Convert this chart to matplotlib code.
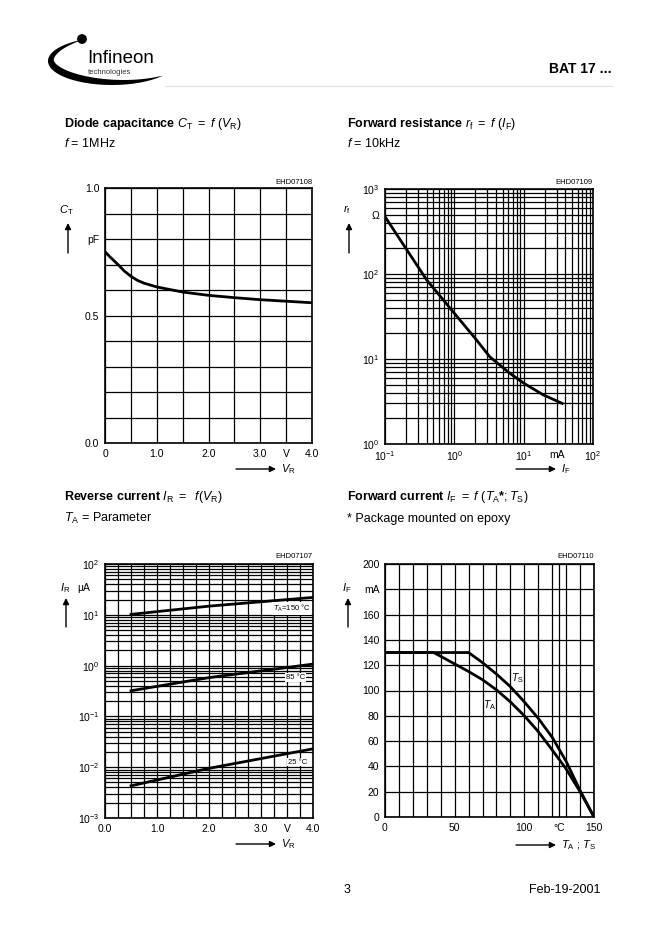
import numpy as np
import matplotlib
matplotlib.use('Agg')
import matplotlib.pyplot as plt
from matplotlib.patches import Polygon, Circle
from matplotlib.ticker import NullFormatter

plt.rcParams['font.family'] = ['Liberation Sans', 'DejaVu Sans']
plt.rcParams['mathtext.fontset'] = 'custom'
plt.rcParams['mathtext.rm'] = 'Liberation Sans'
plt.rcParams['mathtext.it'] = 'Liberation Sans:italic'
plt.rcParams['mathtext.bf'] = 'Liberation Sans:bold'

# ---------------- data ----------------
# Diode capacitance vs reverse voltage
ct_vr = [0, 0.1, 0.25, 0.375, 0.5, 0.625, 0.75, 1.0, 1.5, 2.0, 2.5, 3.0, 3.5, 4.0]
ct_pf = [0.75, 0.729, 0.70, 0.674, 0.654, 0.638, 0.627, 0.612, 0.592, 0.579, 0.570, 0.562, 0.556, 0.550]

# Forward resistance vs forward current
rf_if_ma = [0.1, 0.2, 0.4, 1.0, 2.0, 3.25, 6.3, 10, 19, 36]
rf_ohm = [473, 200, 85, 34.5, 17.5, 10.6, 6.8, 5.2, 3.8, 3.0]

# Reverse current vs reverse voltage
ir_vr = [0.5, 2.0, 4.0]
ir_150 = [10.2, 14.8, 22.0]
ir_85 = [0.32, 0.58, 1.07]
ir_25 = [0.0043, 0.0095, 0.023]
ir_labels = ['$T_\\mathrm{A}$=150 °C', '85 °C', '25 °C']

# Forward current vs temperature
ta_temp = [0, 35, 50, 60, 70, 80, 90, 100, 110, 120, 130, 140, 150]
ta_if = [130, 130, 121, 115, 108.5, 100.5, 91, 80, 67.5, 53, 38, 20, 0]
ts_temp = [0, 60, 70, 80, 90, 100, 110, 120, 130, 140, 150]
ts_if = [130, 130, 122, 113, 103, 91, 78, 63, 44, 21, 0]

# tick labels
ct_xlabels = ['0', '1.0', '2.0', '3.0', 'V', '4.0']
ct_ylabels = ['0.0', '0.5', 'pF', '1.0']
rf_xlabels = ['$10^{-1}$', '$10^{0}$', '$10^{1}$', 'mA', '$10^{2}$']
rf_ylabels = ['$10^{0}$', '$10^{1}$', '$10^{2}$', 'Ω', '$10^{3}$']
ir_xlabels = ['0.0', '1.0', '2.0', '3.0', 'V', '4.0']
ir_ylabels = ['$10^{-3}$', '$10^{-2}$', '$10^{-1}$', '$10^{0}$', '$10^{1}$', '$10^{2}$']
if_xlabels = ['0', '50', '100', '°C', '150']
if_ylabels = ['0', '20', '40', '60', '80', '100', '120', '140', '160', 'mA', '200']

# ---------------- figure ----------------
W, H = 662, 936
fig = plt.figure(figsize=(W / 100, H / 100), dpi=100)
fig.patch.set_facecolor('white')


def add_ax(l, t, r, b):
    return fig.add_axes([l / W, 1 - b / H, (r - l) / W, (b - t) / H])


def style(ax):
    ax.grid(True, which='both', color='black', lw=0.9)
    ax.set_axisbelow(True)
    ax.tick_params(which='both', length=0, labelsize=7.5, pad=4)
    for s in ax.spines.values():
        s.set_linewidth(1.2)


LW = 2.0

# Plot 1: C_T
ax1 = add_ax(105, 188, 312, 443)
style(ax1)
ax1.plot(ct_vr, ct_pf, color='black', lw=LW)
ax1.set_xlim(0, 4)
ax1.set_ylim(0, 1)
ax1.set_xticks(np.arange(0, 4.01, 0.5), minor=True)
ax1.set_yticks(np.arange(0, 1.01, 0.1), minor=True)
ax1.set_xticks([0, 1, 2, 3, 3.5, 4], ct_xlabels)
ax1.set_yticks([0, 0.5, 0.8, 1.0], ct_ylabels)

# Plot 2: r_f
ax2 = add_ax(385, 189, 593, 444)
style(ax2)
ax2.plot(rf_if_ma, rf_ohm, color='black', lw=LW)
ax2.set_xscale('log')
ax2.set_yscale('log')
ax2.set_xlim(0.1, 100)
ax2.set_ylim(1, 1000)
ax2.set_xticks([m * 10.0 ** e for e in (-1, 0, 1) for m in range(2, 10)], minor=True)
ax2.set_yticks([m * 10.0 ** e for e in (0, 1, 2) for m in range(2, 10)], minor=True)
ax2.set_xticks([0.1, 1, 10, 30, 100], rf_xlabels)
ax2.set_yticks([1, 10, 100, 500, 1000], rf_ylabels)
ax2.xaxis.set_minor_formatter(NullFormatter())
ax2.yaxis.set_minor_formatter(NullFormatter())

# Plot 3: I_R
ax3 = add_ax(105, 564, 313, 818)
style(ax3)
for vals in (ir_150, ir_85, ir_25):
    ax3.plot(ir_vr, vals, color='black', lw=LW)
ax3.set_yscale('log')
ax3.set_xlim(0, 4)
ax3.set_ylim(1e-3, 1e2)
ax3.set_xticks(np.arange(0, 4.01, 0.25), minor=True)
ax3.set_yticks([m * 10.0 ** e for e in (-3, -2, -1, 0, 1) for m in range(2, 10)], minor=True)
ax3.set_xticks([0, 1, 2, 3, 3.5, 4], ir_xlabels)
ax3.set_yticks([1e-3, 1e-2, 1e-1, 1, 10, 100], ir_ylabels)
ax3.yaxis.set_minor_formatter(NullFormatter())
for (lx, ly), lab in zip([(3.59, 13.3), (3.66, 0.59), (3.71, 0.0126)], ir_labels):
    ax3.text(lx, ly, lab, fontsize=5.5, ha='center', va='center', zorder=5,
             bbox=dict(facecolor='white', edgecolor='none', pad=0.6))

# Plot 4: I_F
ax4 = add_ax(385, 564, 594, 817)
style(ax4)
ax4.plot(ta_temp, ta_if, color='black', lw=LW)
ax4.plot(ts_temp, ts_if, color='black', lw=LW)
ax4.set_xlim(0, 150)
ax4.set_ylim(0, 200)
ax4.set_xticks(np.arange(0, 151, 10), minor=True)
ax4.set_yticks(np.arange(0, 201, 20), minor=True)
ax4.set_xticks([0, 50, 100, 125, 150], if_xlabels)
ax4.set_yticks(np.arange(0, 201, 20), if_ylabels)
ax4.text(95.3, 110, '$T_\\mathrm{S}$', fontsize=7.5, ha='center', va='center')
ax4.text(75.4, 88.5, '$T_\\mathrm{A}$', fontsize=7.5, ha='center', va='center')

# ---------------- page overlay ----------------
ov = fig.add_axes([0, 0, 1, 1])
ov.set_xlim(0, W)
ov.set_ylim(H, 0)
ov.axis('off')

# logo swoosh
cx, cy, a, b = 112, 61, 64, 24
t = np.linspace(np.radians(118), np.radians(322), 200)
px = cx + a * np.cos(t)
py = cy - b * np.sin(t)
nx = np.cos(t) / a
ny = -np.sin(t) / b
nn = np.hypot(nx, ny)
nx, ny = nx / nn, ny / nn
w = 7.0 * np.sin(np.pi * (t - t[0]) / (t[-1] - t[0])) ** 0.8
inner = np.column_stack([px - w * nx, py - w * ny])
outer = np.column_stack([px, py])
ov.add_patch(Polygon(np.vstack([outer, inner[::-1]]), closed=True, color='black', lw=0))
ov.add_patch(Circle((82, 39), 4.2, color='black'))
ov.text(87, 63, 'Infineon', fontsize=13.5, va='baseline', ha='left')
ov.text(88, 73.5, 'technologies', fontsize=5.5, va='baseline', ha='left', color='#333333')
ov.plot([165, 612], [86, 86], color='#e2e2e2', lw=0.8)

ov.text(612, 73, 'BAT 17 ...', fontsize=10, fontweight='bold', ha='right', va='baseline')

# titles
ov.text(64, 127, 'Diode capacitance $C_\\mathrm{T}\\ =\\ f\\ (V_\\mathrm{R})$', fontsize=9,
        fontweight='bold', va='baseline')
ov.text(64, 147, '$f$ = 1MHz', fontsize=9, va='baseline')
ov.text(347, 127, 'Forward resistance $r_\\mathrm{f}\\ =\\ f\\ (I_\\mathrm{F})$', fontsize=9,
        fontweight='bold', va='baseline')
ov.text(347, 147, '$f$ = 10kHz', fontsize=9, va='baseline')
ov.text(64, 500, 'Reverse current $I_\\mathrm{R}\\ =\\ \\ f(V_\\mathrm{R})$', fontsize=9,
        fontweight='bold', va='baseline')
ov.text(64, 522, '$T_\\mathrm{A}$ = Parameter', fontsize=9, va='baseline')
ov.text(347, 500, 'Forward current $I_\\mathrm{F}\\ =\\ f\\ (T_\\mathrm{A}$*$;T_\\mathrm{S})$', fontsize=9,
        fontweight='bold', va='baseline')
ov.text(347, 522, '* Package mounted on epoxy', fontsize=9, va='baseline')

# chart codes
for x, y, s in [(312, 182, 'EHD07108'), (593, 182, 'EHD07109'),
                (313, 557, 'EHD07107'), (594, 557, 'EHD07110')]:
    ov.text(x, y, s, fontsize=5.5, ha='right', va='center')

arrow = dict(arrowstyle='-|>', color='black', lw=1.0, mutation_scale=9, shrinkA=0, shrinkB=0)

# y-axis quantity labels with up arrows
for x, y, s in [(66, 210, '$C_\\mathrm{T}$'), (347, 210, '$r_\\mathrm{f}$'),
                (65, 588, '$I_\\mathrm{R}$'), (347, 588, '$I_\\mathrm{F}$')]:
    ov.text(x, y, s, fontsize=8, ha='center', va='center')
for x, y0, y1 in [(68, 253, 223), (349, 253, 223), (66, 627, 598), (348, 627, 598)]:
    ov.annotate('', xy=(x, y1), xytext=(x, y0), arrowprops=arrow)
ov.text(84, 588, 'µA', fontsize=7.5, ha='center', va='center')

# x-axis quantity labels with right arrows
for x0, x1, y, s in [(236, 276, 469, '$V_\\mathrm{R}$'), (516, 556, 469, '$I_\\mathrm{F}$'),
                     (236, 276, 844, '$V_\\mathrm{R}$'), (516, 556, 845, '$T_\\mathrm{A}$ ; $T_\\mathrm{S}$')]:
    ov.annotate('', xy=(x1, y), xytext=(x0, y), arrowprops=arrow)
    ov.text(x1 + 5, y, s, fontsize=8, ha='left', va='center')

# footer
ov.text(347, 893, '3', fontsize=9, ha='center', va='baseline')
ov.text(601, 893, 'Feb-19-2001', fontsize=9, ha='right', va='baseline')

fig.savefig('out.png', dpi=100, facecolor='white')
